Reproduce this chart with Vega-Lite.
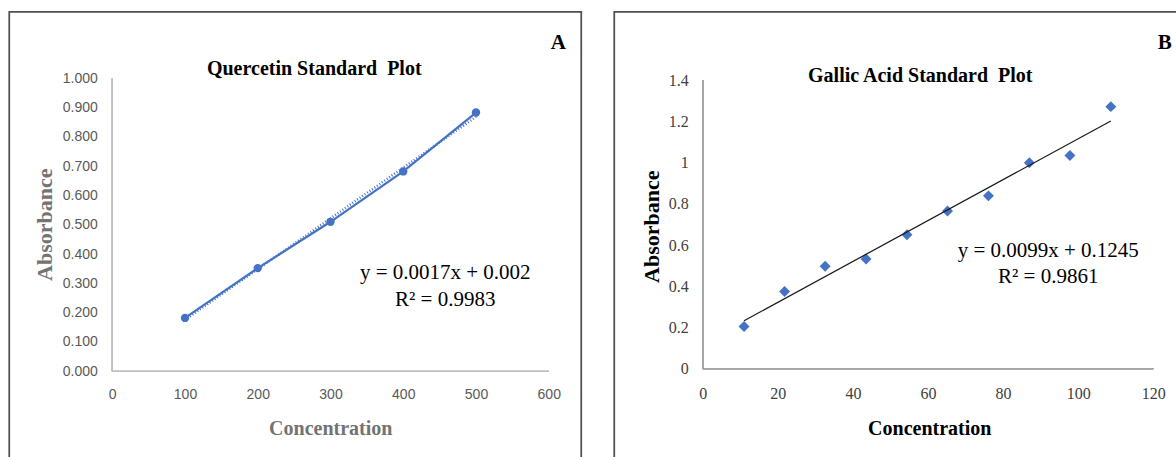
{
  "$schema": "https://vega.github.io/schema/vega-lite/v6.json",
  "background": "white",
  "padding": {"left": 8.25, "top": 10.75, "right": 0, "bottom": 0},
  "bounds": "flush",
  "spacing": 33,
  "config": {"view": {"stroke": "#505050", "strokeWidth": 1.75}},
  "datasets": {
    "quercetin": [
      {"conc": 100, "abs": 0.182},
      {"conc": 200, "abs": 0.352},
      {"conc": 300, "abs": 0.510},
      {"conc": 400, "abs": 0.682},
      {"conc": 500, "abs": 0.883}
    ],
    "gallic": [
      {"conc": 11.0, "abs": 0.205},
      {"conc": 21.8, "abs": 0.375},
      {"conc": 32.6, "abs": 0.497},
      {"conc": 43.5, "abs": 0.533},
      {"conc": 54.4, "abs": 0.650},
      {"conc": 65.2, "abs": 0.766},
      {"conc": 76.1, "abs": 0.839},
      {"conc": 87.0, "abs": 1.000},
      {"conc": 97.8, "abs": 1.035},
      {"conc": 108.7, "abs": 1.272}
    ]
  },
  "hconcat": [
    {
      "width": 572,
      "height": 460,
      "title": {"text": "Quercetin Standard\u00a0 Plot", "font": "Liberation Serif", "fontSize": 20, "fontWeight": "bold", "color": "#000000", "anchor": "middle", "frame": "group", "offset": -83.5, "baseline": "alphabetic", "dx": 19},
      "data": {"name": "quercetin"},
      "encoding": {
        "x": {
          "field": "conc", "type": "quantitative", "title": "Concentration",
          "scale": {"domain": [-141.58, 644.67], "nice": false, "zero": false},
          "axis": {"offset": -100.5, "domain": false, "ticks": false, "tickSize": 0, "grid": false,
            "values": [0, 100, 200, 300, 400, 500, 600], "format": "d",
            "labelFont": "Liberation Sans", "labelFontSize": 14, "labelColor": "#595959", "labelPadding": 16,
            "labelOverlap": false, "labelFlush": false,
            "titleFont": "Liberation Serif", "titleFontSize": 20, "titleFontWeight": "bold", "titleColor": "#737373",
            "titleX": 321, "titleY": 63, "titleBaseline": "alphabetic", "titleAlign": "center"}
        },
        "y": {
          "field": "abs", "type": "quantitative", "title": "Absorbance",
          "scale": {"domain": [-0.343, 1.22697], "nice": false, "zero": false},
          "axis": {"offset": -103, "domain": false, "ticks": false, "tickSize": 0, "grid": false,
            "values": [0, 0.1, 0.2, 0.3, 0.4, 0.5, 0.6, 0.7, 0.8, 0.9, 1.0], "format": ".3f",
            "labelFont": "Liberation Sans", "labelFontSize": 14, "labelColor": "#595959", "labelPadding": 15,
            "labelOverlap": false, "labelFlush": false,
            "titleFont": "Liberation Serif", "titleFontSize": 22, "titleFontWeight": "bold", "titleColor": "#737373",
            "titleX": -60.3, "titleY": 212.5, "titleAngle": 270, "titleBaseline": "alphabetic", "titleAlign": "center"}
        }
      },
      "layer": [
        {"mark": {"type": "rule", "color": "#bfbfbf", "strokeWidth": 1.25},
         "encoding": {"x": {"datum": 0}, "x2": {"datum": 600}, "y": {"datum": 0}}},
        {"mark": {"type": "rule", "color": "#bfbfbf", "strokeWidth": 1.25},
         "encoding": {"x": {"datum": 0}, "y": {"datum": 0}, "y2": {"datum": 1}}},
        {"transform": [{"regression": "abs", "on": "conc"}],
         "mark": {"type": "line", "color": "#4472C4", "strokeWidth": 2.5, "strokeDash": [1, 2]}},
        {"mark": {"type": "line", "color": "#4472C4", "strokeWidth": 2.25,
                  "point": {"filled": true, "size": 70, "color": "#4472C4"}}},
        {"transform": [{"filter": "datum.conc == 500"}],
         "mark": {"type": "text", "text": "A", "font": "Liberation Serif", "fontSize": 21, "fontWeight": "bold", "align": "center", "baseline": "alphabetic", "color": "#000000"},
         "encoding": {"x": {"datum": 613.1}, "y": {"datum": 1.1014}}},
        {"transform": [{"filter": "datum.conc == 500"}],
         "mark": {"type": "text", "text": ["y = 0.0017x + 0.002", "R² = 0.9983"], "font": "Liberation Serif", "fontSize": 21, "lineHeight": 27, "align": "center", "baseline": "alphabetic", "color": "#000000"},
         "encoding": {"x": {"datum": 457.7}, "y": {"datum": 0.314}}}
      ]
    },
    {
      "width": 580,
      "height": 460,
      "title": {"text": "Gallic Acid Standard\u00a0 Plot", "font": "Liberation Serif", "fontSize": 20, "fontWeight": "bold", "color": "#000000", "anchor": "middle", "frame": "group", "offset": -90.5, "baseline": "alphabetic", "dx": 16},
      "data": {"name": "gallic"},
      "encoding": {
        "x": {
          "field": "conc", "type": "quantitative", "title": "Concentration",
          "scale": {"domain": [-23.574, 130.92], "nice": false, "zero": false},
          "axis": {"offset": -103, "domain": false, "ticks": false, "tickSize": 0, "grid": false,
            "values": [0, 20, 40, 60, 80, 100, 120], "format": "d",
            "labelFont": "Liberation Serif", "labelFontSize": 16, "labelColor": "#404040", "labelPadding": 17,
            "labelOverlap": false, "labelFlush": false,
            "titleFont": "Liberation Serif", "titleFontSize": 20, "titleFontWeight": "bold", "titleColor": "#000000",
            "titleX": 315, "titleY": 65.5, "titleBaseline": "alphabetic", "titleAlign": "center"}
        },
        "y": {
          "field": "abs", "type": "quantitative", "title": "Absorbance",
          "scale": {"domain": [-0.49983, 1.73242], "nice": false, "zero": false},
          "axis": {"offset": -88.5, "domain": false, "ticks": false, "tickSize": 0, "grid": false,
            "values": [0, 0.2, 0.4, 0.6, 0.8, 1.0, 1.2, 1.4], "format": "~g",
            "labelFont": "Liberation Serif", "labelFontSize": 16, "labelColor": "#404040", "labelPadding": 14.5,
            "labelOverlap": false, "labelFlush": false,
            "titleFont": "Liberation Serif", "titleFontSize": 22, "titleFontWeight": "bold", "titleColor": "#000000",
            "titleX": -44.5, "titleY": 214.5, "titleAngle": 270, "titleBaseline": "alphabetic", "titleAlign": "center"}
        }
      },
      "layer": [
        {"mark": {"type": "rule", "color": "#a6a6a6", "strokeWidth": 1.25},
         "encoding": {"x": {"datum": 0}, "x2": {"datum": 120}, "y": {"datum": 0}}},
        {"mark": {"type": "rule", "color": "#a6a6a6", "strokeWidth": 1.25},
         "encoding": {"x": {"datum": 0}, "y": {"datum": 0}, "y2": {"datum": 1.4}}},
        {"mark": {"type": "point", "shape": "diamond", "filled": true, "size": 120, "color": "#4472C4", "opacity": 1}},
        {"transform": [{"regression": "abs", "on": "conc"}],
         "mark": {"type": "line", "color": "#1a1a1a", "strokeWidth": 1.25}},
        {"transform": [{"filter": "datum.conc > 100"}],
         "mark": {"type": "text", "text": "B", "font": "Liberation Serif", "fontSize": 21, "fontWeight": "bold", "align": "center", "baseline": "alphabetic", "color": "#000000"},
         "encoding": {"x": {"datum": 123.04}, "y": {"datum": 1.5538}}},
        {"transform": [{"filter": "datum.conc > 100"}],
         "mark": {"type": "text", "text": ["y = 0.0099x + 0.1245", "R² = 0.9861"], "font": "Liberation Serif", "fontSize": 21, "lineHeight": 26, "align": "center", "baseline": "alphabetic", "color": "#000000"},
         "encoding": {"x": {"datum": 92.03}, "y": {"datum": 0.541}}}
      ]
    }
  ]
}
